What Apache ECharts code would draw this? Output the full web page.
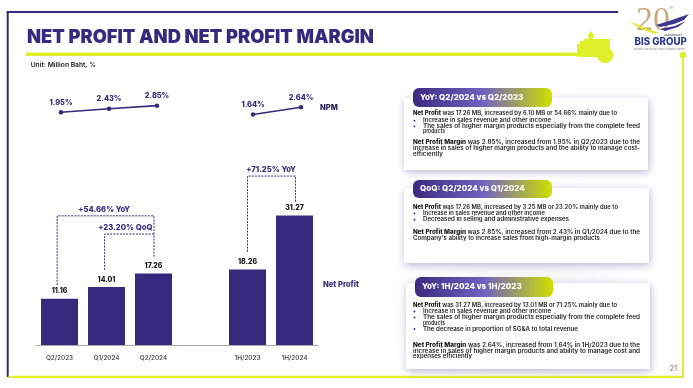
<!DOCTYPE html>
<html><head><meta charset="utf-8">
<style>html,body{margin:0;padding:0;background:#fff}#c{width:693px;height:388px}</style>
<script src="https://cdn.jsdelivr.net/npm/echarts@6/dist/echarts.min.js"></script>
</head><body><div id="c"></div>
<script>
const categories = ['Q2/2023','Q1/2024','Q2/2024','','1H/2023','1H/2024'];
const netProfit = [11.16,14.01,17.26,null,18.26,31.27];
const npm = [1.95,2.43,2.85,null,1.64,2.64];
const npmLabels = ['1.95%','2.43%','2.85%','','1.64%','2.64%'];
const PURPLE='#372a7e', YEL='#e1ee2b', FONT='Inter, "Open Sans", sans-serif';
// bracket: [from category, from value, to category, to value, top value, label, label band position, label value, start nudge, end nudge]
const brackets = [
 [0,14.5,2,21,31.2,'+54.66% YoY',0.95,32.8,-0.05,0.01],
 [1,18.1,2,26.8,26.8,'+23.20% QoQ',1.4,28.3,-0.04,0.01],
 [4,22.5,5,34.6,40.8,'+71.25% YoY',4.5,42.3,0,0.02]
];
const cards = [
 {title:'YoY: Q2/2024 vs Q2/2023',box:[404,98,244,72],pill:[413,88,139,19],lines:[
  [413,113.7,[['Net Profit',1],[' was 17.26 MB, increased by 6.10 MB or 54.66% mainly due to']],204],
  [423,120.7,[['Increase in sales revenue and other income']],128,1],
  [423,126.3,[['The sales of higher margin products especially from the complete feed']],217,1],
  [423,131.3,[['products']],22],
  [413,142.7,[['Net Profit Margin',1],[' was 2.85%, increased from 1.95% in Q2/2023 due to the']],227],
  [413,148.3,[['increase in sales of higher margin products and the ability to manage cost-']],227],
  [413,154,[['efficiently']],30]]},
 {title:'QoQ: Q2/2024 vs Q1/2024',box:[404,188,245,75],pill:[413,180,139,18],lines:[
  [413,207,[['Net Profit',1],[' was 17.26 MB, increased by 3.25 MB or 23.20% mainly due to']],205],
  [423,213.5,[['Increase in sales revenue and other income']],122,1],
  [423,219.7,[['Decreased in selling and administrative expenses']],146,1],
  [413,232,[['Net Profit Margin',1],[' was 2.85%, increased from 2.43% in Q1/2024 due to the']],227],
  [413,238.5,[["Company's ability to increase sales from high-margin products"]],187]]},
 {title:'YoY: 1H/2024 vs 1H/2023',box:[406,283,244,86],pill:[415,277,138,20],lines:[
  [413,305.3,[['Net Profit',1],[' was 31.27 MB, increased by 13.01 MB or 71.25% mainly due to']],204],
  [423,311.5,[['Increase in sales revenue and other income']],128,1],
  [423,317.5,[['The sales of higher margin products especially from the complete feed']],217,1],
  [423,323,[['products']],22],
  [423,329,[['The decrease in proportion of SG&A to total revenue']],155,1],
  [413,345.3,[['Net Profit Margin',1],[' was 2.64%, increased from 1.64% in 1H/2023 due to the']],227],
  [413,351,[['increase in sales of higher margin products and ability to manage cost and']],227],
  [413,356.7,[['expenses efficiently']],59]]}
];
const mctx=document.createElement('canvas').getContext('2d');
function measure(segs,size){let w=0;segs.forEach(s=>{mctx.font=(s[1]?'800 ':'600 ')+size+'px '+FONT;w+=mctx.measureText(s[0]).width});return w}
function bodyLine(l){
 const [x,y,segs,target,bullet]=l,size=5.6;
 const out=[];
 let txt=segs.map((s,i)=>'{'+(s[1]?'b':'n')+'|'+s[0]+'}').join('');
 out.push({type:'text',x,y,scaleX:target/measure(segs,size),z:10,style:{text:txt,verticalAlign:'middle',textVerticalAlign:'middle',
  rich:{b:{font:'800 '+size+'px '+FONT,fill:'#111',lineHeight:6},n:{font:'600 '+size+'px '+FONT,fill:'#222',lineHeight:6}}}});
 if(bullet) out.push({type:'circle',z:10,shape:{cx:414.5,cy:y,r:0.9},style:{fill:'#1d2a7a'}});
 return out;
}
const g=[];
// soft background
g.push({type:'rect',z:0,shape:{x:270,y:180,width:410,height:195},style:{fill:{type:'radial',x:.6,y:.6,r:.7,colorStops:[{offset:0,color:'#f4f4f5'},{offset:1,color:'#ffffff'}]}}});
// frame
g.push({type:'rect',z:1,shape:{x:6.7,y:11,width:611.5,height:2},style:{fill:PURPLE}});
g.push({type:'rect',z:1,shape:{x:6.7,y:11,width:2,height:366},style:{fill:PURPLE}});
g.push({type:'rect',z:1,shape:{x:8.5,y:375.7,width:675.5,height:2.2},style:{fill:YEL}});
g.push({type:'rect',z:1,shape:{x:682,y:55,width:2,height:322},style:{fill:YEL}});
g.push({type:'circle',z:1,shape:{cx:683,cy:55,r:3.2},style:{fill:YEL}});
// title rule + tractor
g.push({type:'rect',z:1,shape:{x:26,y:52.5,width:555,height:3.5},style:{fill:YEL}});
g.push({type:'polygon',z:1,shape:{points:[[577,57],[577,44],[580,44],[580,41],[584,41],[584,39],[610,39],[610,57]]},style:{fill:YEL}});
g.push({type:'circle',z:1,shape:{cx:605,cy:55,r:8.3},style:{fill:YEL}});
g.push({type:'polygon',z:1,shape:{points:[[587,36],[591,31],[595,36],[593.5,36],[593.5,39],[588.5,39],[588.5,36]]},style:{fill:YEL}});
// title
g.push({type:'text',z:5,x:27,y:38,style:{text:'NET PROFIT AND NET PROFIT MARGIN',font:'900 18.3px '+FONT,fill:PURPLE,textVerticalAlign:'middle',verticalAlign:'middle'}});
g.push({type:'text',z:5,x:30.7,y:64.5,style:{text:'Unit: Million Baht, %',font:'600 6.7px '+FONT,fill:'#222',verticalAlign:'middle',textVerticalAlign:'middle'}});
g.push({type:'text',z:5,x:320,y:107.3,style:{text:'NPM',font:'800 7.5px '+FONT,fill:'#1a1650',verticalAlign:'middle',textVerticalAlign:'middle'}});
g.push({type:'text',z:5,x:323,y:285,style:{text:'Net Profit',font:'800 7.6px '+FONT,fill:PURPLE,verticalAlign:'middle',textVerticalAlign:'middle'}});
g.push({type:'text',z:5,x:669.5,y:369,style:{text:'21',font:'400 7.5px '+FONT,fill:'#777',verticalAlign:'middle',textVerticalAlign:'middle'}});
// logo
g.push({type:'text',z:5,x:636,y:21,style:{text:'20',font:'400 34px "Liberation Serif"',fill:'#c7aa80',verticalAlign:'middle',textVerticalAlign:'middle'}});
g.push({type:'text',z:5,x:670,y:7.5,style:{text:'th',font:'400 4px '+FONT,fill:'#b39569',verticalAlign:'middle',textVerticalAlign:'middle'}});
g.push({type:'polygon',z:6,shape:{points:[[630,21.5],[637,24],[645,28],[653,31],[660,32.5],[654,33.5],[646,31],[638,27]]},style:{fill:YEL}});
g.push({type:'polygon',z:6,shape:{points:[[656,25],[672,20],[689,14],[684,20],[674,24],[660,27]]},style:{fill:'#3d3590'}});
g.push({type:'polygon',z:6,shape:{points:[[660,29],[675,26],[686,21],[678,27],[665,31]]},style:{fill:'#3d3590'}});
g.push({type:'text',z:6,x:664,y:35,style:{text:'ANNIVERSARY',font:'700 2.5px '+FONT,fill:'#666',verticalAlign:'middle',textVerticalAlign:'middle'}});
g.push({type:'text',z:6,x:634.5,y:42,style:{text:'BIS GROUP',font:'800 9.7px '+FONT,fill:'#2b3b8f',verticalAlign:'middle',textVerticalAlign:'middle'}});
g.push({type:'text',z:6,x:634,y:49,style:{text:'BUSINESS AREA EQUITY PUBLIC COMPANY LIMITED',font:'500 2px '+FONT,fill:'#888',verticalAlign:'middle',textVerticalAlign:'middle'}});
// cards
cards.forEach(c=>{
 g.push({type:'rect',z:3,shape:{x:c.box[0],y:c.box[1],width:c.box[2],height:c.box[3]},style:{fill:'#fff',shadowBlur:8,shadowColor:'rgba(60,50,130,.35)',shadowOffsetX:1,shadowOffsetY:2}});
 g.push({type:'rect',z:4,shape:{x:c.pill[0],y:c.pill[1],width:c.pill[2],height:c.pill[3],r:6},style:{fill:{type:'linear',x:0,y:0,x2:1,y2:0,colorStops:[{offset:0,color:'#3a2a80'},{offset:.5,color:'#6f62c0'},{offset:1,color:'#cfe000'}]}}});
 g.push({type:'text',z:5,x:c.pill[0]+7,y:c.pill[1]+c.pill[3]/2,style:{text:c.title,font:'800 8px '+FONT,fill:'#fff',verticalAlign:'middle',textVerticalAlign:'middle'}});
 c.lines.forEach(l=>bodyLine(l).forEach(e=>g.push(e)));
});
const chart=echarts.init(document.getElementById('c'),null,{renderer:'canvas'});
chart.setOption({
 animation:false,
 grid:[{left:36,width:282,top:171.12,height:173.88},{left:37,width:288,top:97.2,height:29.4}],
 xAxis:[
  {type:'category',gridIndex:0,data:categories,axisTick:{show:false},axisLine:{lineStyle:{color:'#aaa',width:1}},
   axisLabel:{color:'#333',fontFamily:FONT,fontSize:6.4,fontWeight:500,margin:10}},
  {type:'category',gridIndex:1,data:categories,show:false}],
 yAxis:[
  {type:'value',gridIndex:0,min:0,max:42,show:false},
  {type:'value',gridIndex:1,min:0,max:4,show:false}],
 series:[
  {type:'bar',xAxisIndex:0,yAxisIndex:0,data:netProfit,barWidth:37,itemStyle:{color:PURPLE},z:3,
   label:{show:true,position:'top',distance:4,color:'#111',fontFamily:FONT,fontSize:7,fontWeight:800}},
  {type:'line',xAxisIndex:1,yAxisIndex:1,data:npm,connectNulls:false,symbol:'circle',symbolSize:4.5,
   lineStyle:{color:PURPLE,width:1.6},itemStyle:{color:PURPLE},z:3,
   label:{show:true,position:'top',distance:4,color:PURPLE,fontFamily:FONT,fontSize:7.4,fontWeight:800,
    formatter:p=>npmLabels[p.dataIndex]}},
  {type:'custom',xAxisIndex:0,yAxisIndex:0,clip:false,silent:true,z:4,
   data:brackets.map((b,i)=>[i]),
   encode:{x:[],y:[]},
   renderItem:(params,api)=>{
    const b=brackets[api.value(0)];
    const a=api.coord([b[0],b[1]]),e=api.coord([b[2],b[3]]),t=api.coord([b[0],b[4]])[1];
    const band=api.size([1,0])[0];
    const ax=a[0]+b[8]*band, ex=e[0]+b[9]*band;
    const lx=api.coord([0,b[7]])[0]+b[6]*band;
    const ly=api.coord([0,b[7]])[1];
    return {type:'group',children:[
     {type:'polyline',shape:{points:[[ax,a[1]],[ax,t],[ex,t],[ex,e[1]]]},
      style:{stroke:PURPLE,lineWidth:1,lineDash:[2,1.2],fill:null}},
     {type:'text',x:lx,y:ly,style:{text:b[5],font:'800 7.7px '+FONT,fill:PURPLE,textAlign:'center',textVerticalAlign:'middle',verticalAlign:'middle'}}
    ]};
   }}
 ],
 graphic:{elements:g}
});
</script></body></html>
